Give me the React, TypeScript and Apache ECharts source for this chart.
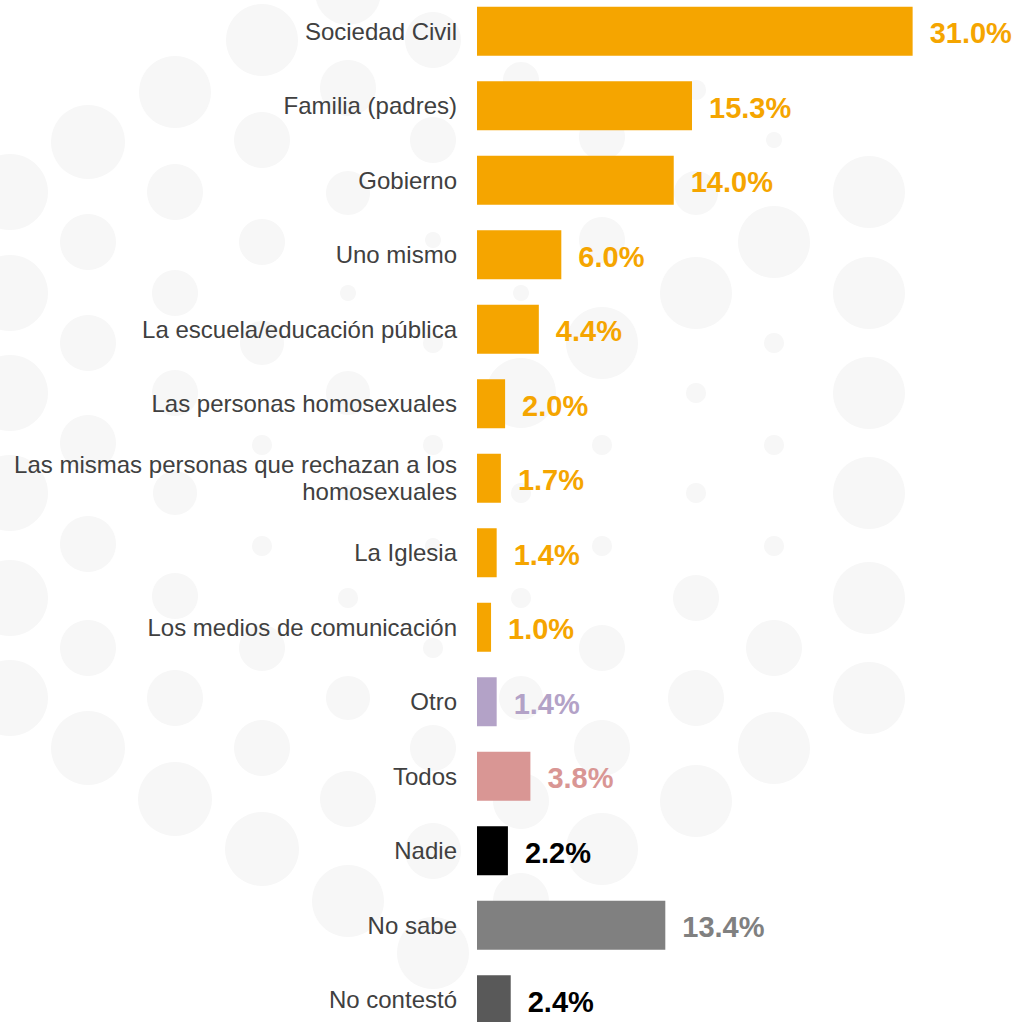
import React, { useEffect, useRef } from "react";
import * as echarts from "echarts";

const categories = [
  "Sociedad Civil",
  "Familia (padres)",
  "Gobierno",
  "Uno mismo",
  "La escuela/educación pública",
  "Las personas homosexuales",
  "Las mismas personas que rechazan a los\nhomosexuales",
  "La Iglesia",
  "Los medios de comunicación",
  "Otro",
  "Todos",
  "Nadie",
  "No sabe",
  "No contestó",
];

const values = [31.0, 15.3, 14.0, 6.0, 4.4, 2.0, 1.7, 1.4, 1.0, 1.4, 3.8, 2.2, 13.4, 2.4];

const ORANGE = "#F5A500";
const barColors = [
  ORANGE, ORANGE, ORANGE, ORANGE, ORANGE, ORANGE, ORANGE, ORANGE, ORANGE,
  "#B3A2C7", "#D99694", "#000000", "#808080", "#595959",
];
const labelColors = [
  ORANGE, ORANGE, ORANGE, ORANGE, ORANGE, ORANGE, ORANGE, ORANGE, ORANGE,
  "#B3A2C7", "#D99694", "#000000", "#808080", "#000000",
];

// decorative background dots (page coordinates): [x, y, r]
const BG_DOTS: number[][] = [
  [10, 192, 38], [10, 293, 38], [10, 393, 38], [10, 493, 38], [10, 598, 38], [10, 698, 38],
  [88, 142, 37], [88, 242, 28], [88, 343, 28], [88, 443, 28], [88, 544, 28], [88, 648, 28], [88, 748, 37],
  [175, 92, 36], [175, 192, 28], [175, 293, 23], [175, 393, 23], [175, 493, 22], [175, 596, 23], [175, 698, 28], [175, 799, 37],
  [262, 40, 36], [262, 140, 28], [262, 242, 23], [262, 343, 22], [262, 445, 10], [262, 546, 10], [262, 648, 23], [262, 748, 28], [262, 849, 37],
  [348, -8, 33], [348, 88, 28], [348, 193, 22], [348, 293, 8], [348, 393, 22], [348, 493, 8], [348, 598, 10], [348, 698, 22], [348, 799, 28], [348, 901, 36],
  [433, 40, 28], [433, 140, 23], [433, 240, 8], [433, 343, 10], [433, 445, 10], [433, 546, 8], [433, 648, 10], [433, 748, 23], [433, 851, 28], [433, 953, 36],
  [521, 80, 18], [521, 293, 8], [521, 393, 35], [521, 493, 10], [521, 598, 10], [521, 698, 22], [521, 801, 28], [521, 901, 28],
  [602, 137, 23], [602, 240, 23], [602, 343, 36], [602, 445, 10], [602, 546, 10], [602, 648, 23], [602, 748, 28], [602, 849, 36],
  [696, 90, 10], [696, 193, 22], [696, 293, 36], [696, 393, 10], [696, 493, 10], [696, 598, 23], [696, 698, 28], [696, 801, 36],
  [774, 140, 8], [774, 242, 36], [774, 343, 10], [774, 445, 10], [774, 546, 10], [774, 648, 28], [774, 748, 36],
  [869, 192, 36], [869, 293, 36], [869, 393, 36], [869, 493, 36], [869, 598, 36], [869, 698, 36],
];

const OFFSET_Y = 6; // chart div is shifted up by this many pixels

export default function App() {
  const ref = useRef<HTMLDivElement>(null);

  useEffect(() => {
    if (!ref.current) return;
    const chart = echarts.init(ref.current, null, { renderer: "svg" });
    const font = "'Liberation Sans', Arial, Helvetica, sans-serif";
    chart.setOption({
      animation: false,
      backgroundColor: "#ffffff",
      graphic: BG_DOTS.map(([x, y, r]) => ({
        type: "circle",
        shape: { cx: x, cy: y + OFFSET_Y, r },
        style: { fill: "#f7f7f7" },
        silent: true,
        z: 0,
      })),
      grid: { left: 477, right: 8, top: 0, height: 1043, containLabel: false },
      xAxis: {
        type: "value",
        min: 0,
        max: 38,
        show: false,
      },
      yAxis: {
        type: "category",
        inverse: true,
        data: categories,
        axisLine: { show: false },
        axisTick: { show: false },
        splitLine: { show: false },
        axisLabel: {
          color: "#404040",
          fontSize: 24,
          fontFamily: font,
          margin: 20,
          align: "right",
          lineHeight: 27,
        },
      },
      series: [
        {
          type: "bar",
          barWidth: 49,
          z: 2,
          data: values.map((v, i) => ({
            value: v,
            itemStyle: { color: barColors[i] },
            label: { color: labelColors[i] },
          })),
          label: {
            show: true,
            position: "right",
            distance: 17,
            fontSize: 29,
            fontWeight: "bold",
            fontFamily: font,
            offset: [0, 2],
            formatter: (p: any) => Number(p.value).toFixed(1) + "%",
          },
        },
      ],
    });
    return () => chart.dispose();
  }, []);

  return (
    <div
      ref={ref}
      style={{ position: "absolute", left: 0, top: -OFFSET_Y, width: 1019, height: 1050 }}
    />
  );
}
